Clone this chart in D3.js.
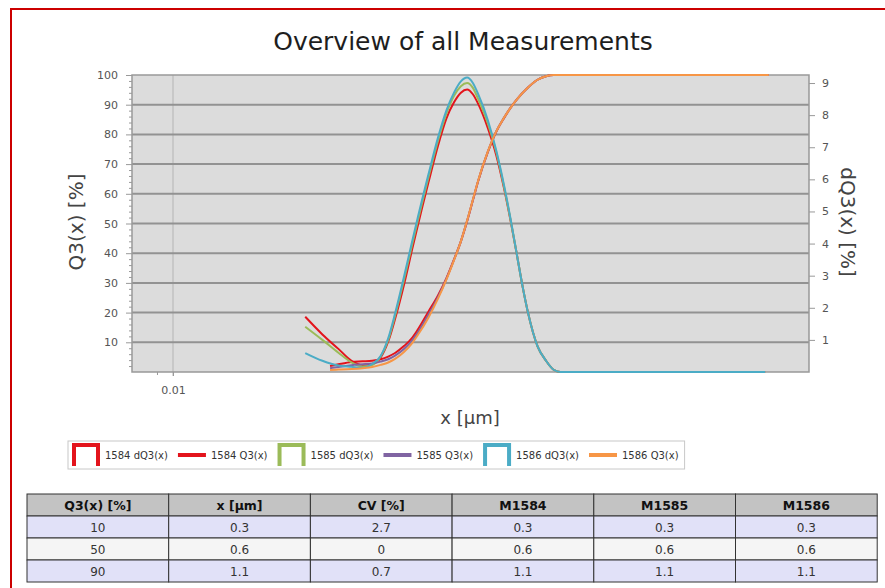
<!DOCTYPE html>
<html>
<head>
<meta charset="utf-8">
<script src="https://cdn.jsdelivr.net/npm/d3@7"></script>
<style>
  body { margin: 0; background: #fff; }
  svg { display: block; }
</style>
</head>
<body>
<div id="chart"></div>
<script>
// particle size grid (µm)
const dq3X = [0.063, 0.08, 0.1, 0.12, 0.14, 0.16, 0.18, 0.2, 0.22, 0.25, 0.28, 0.3, 0.32, 0.35, 0.4, 0.45, 0.5, 0.55, 0.6, 0.65, 0.7, 0.8, 0.9, 1.0, 1.1, 1.2, 1.3, 1.4, 1.6, 1.8, 2.0, 2.2, 3, 10, 38];
const q3X = [0.089, 0.1, 0.12, 0.14, 0.16, 0.18, 0.2, 0.22, 0.25, 0.28, 0.3, 0.35, 0.4, 0.45, 0.5, 0.55, 0.6, 0.65, 0.7, 0.8, 0.9, 1.0, 1.1, 1.2, 1.4, 1.6, 1.8, 2.0, 2.2, 3, 10, 40];

// density dQ3(x) [%] per measurement
const dq3_1584 = [1.72, 1.17, 0.72, 0.35, 0.22, 0.25, 0.45, 0.95, 1.65, 2.75, 3.85, 4.5, 5.1, 5.9, 7.05, 7.9, 8.4, 8.7, 8.8, 8.65, 8.35, 7.6, 6.75, 5.75, 4.7, 3.65, 2.65, 1.85, 0.8, 0.35, 0.07, 0, 0, 0, 0];
const dq3_1585 = [1.41, 1.0, 0.6, 0.3, 0.17, 0.22, 0.48, 1.0, 1.75, 2.9, 4.0, 4.65, 5.25, 6.05, 7.2, 8.05, 8.6, 8.9, 9.0, 8.85, 8.5, 7.75, 6.85, 5.8, 4.72, 3.65, 2.65, 1.85, 0.8, 0.35, 0.07, 0, 0, 0, 0];
const dq3_1586 = [0.59, 0.35, 0.2, 0.16, 0.13, 0.25, 0.5, 1.05, 1.82, 3.0, 4.1, 4.75, 5.35, 6.15, 7.3, 8.15, 8.7, 9.05, 9.17, 9.0, 8.65, 7.85, 6.9, 5.85, 4.75, 3.65, 2.65, 1.85, 0.8, 0.35, 0.07, 0, 0, 0, 0];

// cumulative Q3(x) [%] per measurement
const q3_1584 = [2.0, 2.6, 3.4, 3.6, 3.8, 4.3, 5.2, 6.4, 8.8, 11.6, 14, 20.3, 25.8, 31.6, 37.9, 44, 50.8, 57.8, 64.3, 74, 80.9, 85.4, 89, 91.8, 95.8, 98.4, 99.6, 100, 100, 100, 100, 100];
const q3_1585 = [1.3, 1.7, 2.3, 2.6, 2.9, 3.5, 4.3, 5.5, 7.8, 10.7, 13, 19.3, 25.2, 31.4, 37.8, 44, 50.9, 57.9, 64.4, 74.1, 81, 85.5, 89, 91.8, 95.8, 98.4, 99.6, 100, 100, 100, 100, 100];
const q3_1586 = [0.7, 0.8, 1.0, 1.3, 1.7, 2.4, 3.2, 4.4, 6.8, 9.8, 12.2, 18.3, 24.7, 31.2, 37.7, 44, 51, 58, 64.5, 74.2, 81, 85.5, 89, 91.8, 95.8, 98.4, 99.6, 100, 100, 100, 100, 100];

// axis ticks
const leftTicks = [10, 20, 30, 40, 50, 60, 70, 80, 90, 100];
const rightTicks = [1, 2, 3, 4, 5, 6, 7, 8, 9];
const xTicks = [0.01];

// results table
const tableHeader = ["Q3(x) [%]", "x [µm]", "CV [%]", "M1584", "M1585", "M1586"];
const q3Levels = ["10", "50", "90"];
const xAtLevel = ["0.3", "0.6", "1.1"];
const cvAtLevel = ["2.7", "0", "0.7"];
const m1584 = ["0.3", "0.6", "1.1"];
const m1585 = ["0.3", "0.6", "1.1"];
const m1586 = ["0.3", "0.6", "1.1"];

const series = [
  { name: "1584 dQ3(x)", kind: "d", x: dq3X, y: dq3_1584, color: "#e3141c" },
  { name: "1584 Q3(x)",  kind: "q", x: q3X,  y: q3_1584,  color: "#e3141c" },
  { name: "1585 dQ3(x)", kind: "d", x: dq3X, y: dq3_1585, color: "#9bbb59" },
  { name: "1585 Q3(x)",  kind: "q", x: q3X,  y: q3_1585,  color: "#8064a2" },
  { name: "1586 dQ3(x)", kind: "d", x: dq3X, y: dq3_1586, color: "#4bacc6" },
  { name: "1586 Q3(x)",  kind: "q", x: q3X,  y: q3_1586,  color: "#f79646" }
];

const W = 885, H = 588;
const plot = { left: 132, right: 809, top: 75, bottom: 372 };
const font = "DejaVu Sans, Verdana, sans-serif";

const svg = d3.select("#chart").append("svg")
  .attr("width", W)
  .attr("height", H);

// red page frame
svg.append("rect")
  .attr("x", 11).attr("y", 9)
  .attr("width", 900).attr("height", 620)
  .attr("fill", "none")
  .attr("stroke", "#cc0000")
  .attr("stroke-width", 2);

// title
svg.append("text")
  .attr("x", 463).attr("y", 50)
  .attr("text-anchor", "middle")
  .style("font-family", font)
  .style("font-size", "25px")
  .style("fill", "#1e1e1e")
  .text("Overview of all Measurements");

// scales
const x = d3.scaleLog().domain([0.00565, 70]).range([plot.left, plot.right]);
const yL = d3.scaleLinear().domain([0, 100]).range([plot.bottom, plot.top]);
const yR = d3.scaleLinear().domain([0, 9.25]).range([plot.bottom, plot.top]);

// plot background
svg.append("rect")
  .attr("x", plot.left).attr("y", plot.top)
  .attr("width", plot.right - plot.left)
  .attr("height", plot.bottom - plot.top)
  .attr("fill", "#dcdcdc");

// vertical grid at labelled x ticks
svg.append("g").selectAll("line")
  .data(xTicks)
  .enter().append("line")
    .attr("x1", d => x(d)).attr("x2", d => x(d))
    .attr("y1", plot.top).attr("y2", plot.bottom + 4)
    .attr("stroke", "#b4b4b4")
    .attr("stroke-width", 1);

// horizontal grid
svg.append("g").selectAll("line")
  .data(leftTicks.filter(d => d < 100))
  .enter().append("line")
    .attr("x1", plot.left).attr("x2", plot.right)
    .attr("y1", d => yL(d)).attr("y2", d => yL(d))
    .attr("stroke", "#929292")
    .attr("stroke-width", 2);

// frame
svg.append("rect")
  .attr("x", plot.left).attr("y", plot.top)
  .attr("width", plot.right - plot.left)
  .attr("height", plot.bottom - plot.top)
  .attr("fill", "none")
  .attr("stroke", "#999")
  .attr("stroke-width", 1.5);

function styleAxis(g) {
  g.select(".domain").remove();
  g.selectAll(".tick line").attr("stroke", "#999");
  g.selectAll(".tick text")
    .style("font-family", font)
    .style("font-size", "11px")
    .style("fill", "#555");
}

// left axis: minor then major
svg.append("g")
  .attr("transform", `translate(${plot.left},0)`)
  .call(d3.axisLeft(yL).tickValues(d3.range(2, 100, 2).filter(d => d % 10 !== 0)).tickSize(3).tickFormat(""))
  .call(styleAxis);
svg.append("g")
  .attr("transform", `translate(${plot.left},0)`)
  .call(d3.axisLeft(yL).tickValues(leftTicks).tickSize(6).tickPadding(8))
  .call(styleAxis);

// right axis
svg.append("g")
  .attr("transform", `translate(${plot.right},0)`)
  .call(d3.axisRight(yR).tickValues(rightTicks).tickSize(6).tickPadding(7))
  .call(styleAxis);

// bottom axis
svg.append("g")
  .attr("transform", `translate(0,${plot.bottom})`)
  .call(d3.axisBottom(x).tickValues([0.008]).tickSize(3).tickFormat(""))
  .call(styleAxis);
svg.append("g")
  .attr("transform", `translate(0,${plot.bottom})`)
  .call(d3.axisBottom(x).tickValues(xTicks).tickSize(4).tickPadding(10).tickFormat(d3.format(".2f")))
  .call(styleAxis);

// axis titles
svg.append("text")
  .attr("transform", "translate(83,222) rotate(-90)")
  .attr("text-anchor", "middle")
  .style("font-family", font)
  .style("font-size", "20px")
  .style("fill", "#444")
  .text("Q3(x) [%]");

svg.append("text")
  .attr("transform", "translate(841,222) rotate(90)")
  .attr("text-anchor", "middle")
  .style("font-family", font)
  .style("font-size", "20px")
  .style("fill", "#444")
  .text("dQ3(x) [%]");

svg.append("text")
  .attr("x", 470).attr("y", 424)
  .attr("text-anchor", "middle")
  .style("font-family", font)
  .style("font-size", "18px")
  .style("fill", "#444")
  .text("x [µm]");

// curves
series.forEach(s => {
  const yScale = s.kind === "d" ? yR : yL;
  const line = d3.line()
    .x(d => x(d[0]))
    .y(d => yScale(d[1]))
    .curve(d3.curveMonotoneX);
  svg.append("path")
    .datum(d3.zip(s.x, s.y))
    .attr("d", line)
    .attr("fill", "none")
    .attr("stroke", s.color)
    .attr("stroke-width", 2)
    .attr("stroke-linejoin", "round");
});

// legend
const legend = svg.append("g");
const legendBox = legend.append("rect")
  .attr("x", 68).attr("y", 441)
  .attr("height", 28)
  .attr("fill", "#fff")
  .attr("stroke", "#c8c8c8")
  .attr("stroke-width", 1);

let cx = 72;
series.forEach(s => {
  const item = legend.append("g");
  if (s.kind === "d") {
    item.append("path")
      .attr("d", `M${cx + 2},466 L${cx + 2},445 L${cx + 26},445 L${cx + 26},466`)
      .attr("fill", "none")
      .attr("stroke", s.color)
      .attr("stroke-width", 4);
  } else {
    item.append("line")
      .attr("x1", cx).attr("x2", cx + 28)
      .attr("y1", 455).attr("y2", 455)
      .attr("stroke", s.color)
      .attr("stroke-width", 4);
  }
  const t = item.append("text")
    .attr("x", cx + 33).attr("y", 459)
    .style("font-family", font)
    .style("font-size", "10px")
    .style("fill", "#333")
    .text(s.name);
  cx += 33 + t.node().getComputedTextLength() + 10;
});
legendBox.attr("width", cx - 68 - 4);

// results table
const tbl = { left: 27, top: 494, colW: 141.7, rowH: 22 };
const rows = d3.zip(q3Levels, xAtLevel, cvAtLevel, m1584, m1585, m1586);
const rowFill = ["#e1e1f8", "#f5f5f5", "#e1e1f8"];
const table = svg.append("g");

table.selectAll(".hdr")
  .data(tableHeader)
  .enter().append("rect")
    .attr("x", (d, i) => tbl.left + i * tbl.colW)
    .attr("y", tbl.top)
    .attr("width", tbl.colW).attr("height", tbl.rowH)
    .attr("fill", "#c3c3c3")
    .attr("stroke", "#333").attr("stroke-width", 1);

table.selectAll(".hdrText")
  .data(tableHeader)
  .enter().append("text")
    .attr("x", (d, i) => tbl.left + (i + 0.5) * tbl.colW)
    .attr("y", tbl.top + 16)
    .attr("text-anchor", "middle")
    .style("font-family", font)
    .style("font-size", "12.5px")
    .style("font-weight", "bold")
    .style("fill", "#111")
    .text(d => d);

rows.forEach((r, ri) => {
  const y0 = tbl.top + (ri + 1) * tbl.rowH;
  r.forEach((v, ci) => {
    table.append("rect")
      .attr("x", tbl.left + ci * tbl.colW).attr("y", y0)
      .attr("width", tbl.colW).attr("height", tbl.rowH)
      .attr("fill", rowFill[ri])
      .attr("stroke", "#333").attr("stroke-width", 1);
    table.append("text")
      .attr("x", tbl.left + (ci + 0.5) * tbl.colW)
      .attr("y", y0 + 15.5)
      .attr("text-anchor", "middle")
      .style("font-family", font)
      .style("font-size", "12px")
      .style("fill", "#333")
      .text(v);
  });
});
</script>
</body>
</html>
